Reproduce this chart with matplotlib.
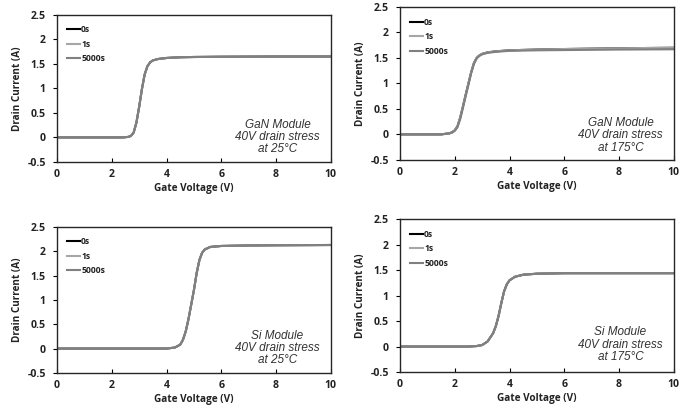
import matplotlib
matplotlib.use("Agg")
import matplotlib.pyplot as plt

# gate voltage (V) / drain current (A)
gan25_v = [0, 2.4, 2.6, 2.7, 2.8, 2.9, 3.0, 3.1, 3.2, 3.3, 3.4, 3.5, 3.7, 4.0, 4.5, 5, 6, 8, 10]
gan25_i = [0, 0, 0.01, 0.03, 0.1, 0.3, 0.62, 0.98, 1.28, 1.45, 1.53, 1.57, 1.60, 1.62, 1.635, 1.64, 1.645, 1.65, 1.65]

gan175_v = [0, 1.5, 1.8, 1.9, 2.0, 2.1, 2.2, 2.3, 2.4, 2.5, 2.6, 2.7, 2.8, 2.9, 3.0, 3.2, 3.5, 4.0, 5, 6, 8, 10]
gan175_i = [0, 0, 0.02, 0.04, 0.08, 0.16, 0.33, 0.55, 0.78, 1.0, 1.22, 1.4, 1.5, 1.55, 1.58, 1.61, 1.63, 1.65, 1.665, 1.675, 1.69, 1.70]
gan175_i_5000 = [0, 0, 0.02, 0.035, 0.07, 0.14, 0.3, 0.52, 0.75, 0.97, 1.2, 1.38, 1.49, 1.54, 1.57, 1.6, 1.62, 1.64, 1.65, 1.655, 1.665, 1.67]

si25_v = [0, 4.0, 4.3, 4.5, 4.6, 4.7, 4.8, 4.9, 5.0, 5.1, 5.2, 5.3, 5.4, 5.6, 6.0, 7, 8, 10]
si25_i = [0, 0, 0.02, 0.08, 0.18, 0.35, 0.6, 0.9, 1.2, 1.55, 1.82, 1.97, 2.04, 2.09, 2.11, 2.12, 2.125, 2.13]

si175_v = [0, 2.5, 2.8, 3.0, 3.2, 3.4, 3.5, 3.6, 3.7, 3.8, 3.9, 4.0, 4.2, 4.5, 5.0, 6, 8, 10]
si175_i = [0, 0, 0.01, 0.03, 0.1, 0.26, 0.4, 0.6, 0.85, 1.08, 1.22, 1.3, 1.37, 1.41, 1.43, 1.44, 1.44, 1.44]

labels = ["0s", "1s", "5000s"]
colors = ["black", "#a6a6a6", "#808080"]

panels = [
    ([0.082, 0.607, 0.394, 0.357], gan25_v, [gan25_i, gan25_i, gan25_i], "GaN Module\n40V drain stress\nat 25\u00b0C", 0.17),
    ([0.5755, 0.612, 0.394, 0.371], gan175_v, [gan175_i, gan175_i, gan175_i_5000], "GaN Module\n40V drain stress\nat 175\u00b0C", 0.16),
    ([0.082, 0.095, 0.394, 0.354], si25_v, [si25_i, si25_i, si25_i], "Si Module\n40V drain stress\nat 25\u00b0C", 0.17),
    ([0.5755, 0.097, 0.394, 0.371], si175_v, [si175_i, si175_i, si175_i], "Si Module\n40V drain stress\nat 175\u00b0C", 0.18),
]

plt.rcParams["font.family"] = "Open Sans"
plt.rcParams["font.weight"] = "bold"
plt.rcParams["axes.labelweight"] = "bold"
plt.rcParams["text.color"] = "#222222"

fig = plt.figure(figsize=(6.95, 4.12), dpi=100)

for rect, v, curves, note, ny in panels:
    ax = fig.add_axes(rect)
    for cur, lab, col in zip(curves, labels, colors):
        ax.plot(v, cur, color=col, lw=1.5, label=lab)
    ax.set_xlim(0, 10)
    ax.set_ylim(-0.5, 2.5)
    ax.set_xticks([0, 2, 4, 6, 8, 10])
    ax.set_yticks([-0.5, 0, 0.5, 1, 1.5, 2, 2.5])
    ax.set_yticklabels(["-0.5", "0", "0.5", "1", "1.5", "2", "2.5"])
    ax.tick_params(axis="x", direction="in", length=3, width=0.8, pad=5,
                   labelcolor="#222222", labelsize=7.6)
    ax.tick_params(axis="y", direction="out", length=3, width=0.8, pad=5,
                   labelcolor="#222222", labelsize=7.6)
    for s in ax.spines.values():
        s.set_linewidth(1.0)
        s.set_color("#262626")
    ax.set_xlabel("Gate Voltage (V)", labelpad=2.5, fontsize=7.2, color="#222222")
    ax.set_ylabel("Drain Current (A)", labelpad=3, fontsize=7.2, color="#222222")
    ax.text(0.805, ny, note, transform=ax.transAxes, ha="center", va="center",
            family="Liberation Sans", style="italic", weight="normal",
            fontsize=8.5, color="#333333", linespacing=1.02)
    ax.legend(loc="upper left", bbox_to_anchor=(0.035, 0.93), frameon=False,
              borderpad=0, borderaxespad=0, handlelength=1.6, handletextpad=0.1,
              labelspacing=0.65, prop=dict(weight="bold", size=6.2))

fig.savefig("out.png", dpi=100)
